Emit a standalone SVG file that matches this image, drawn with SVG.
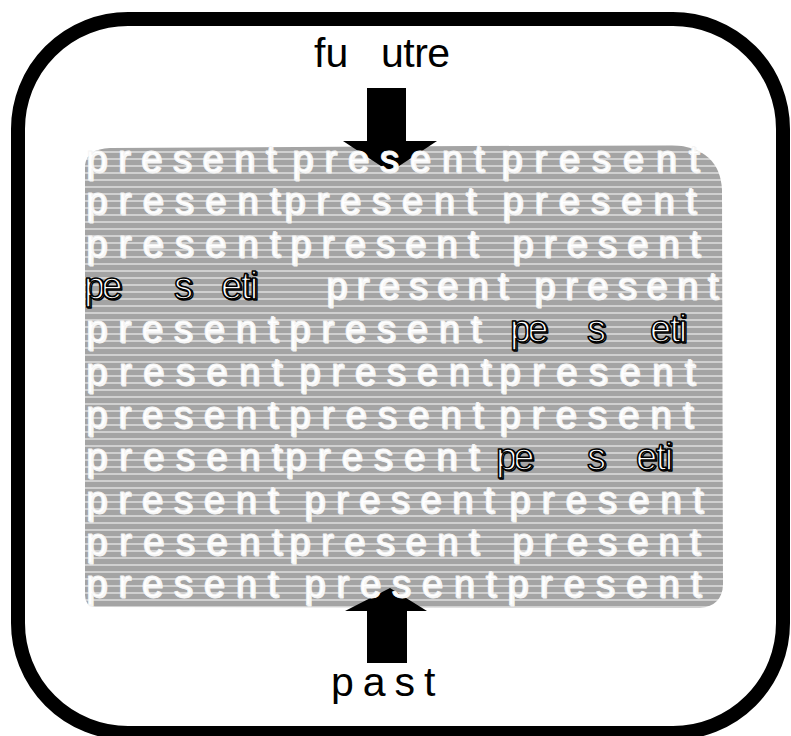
<svg xmlns="http://www.w3.org/2000/svg" xmlns:xlink="http://www.w3.org/1999/xlink" width="791" height="736" viewBox="0 0 791 736">
  <style>
    .lbl { font-family: "Liberation Sans", Arial, sans-serif; font-size: 41px; fill: #000; }
    .pr { font-family: "Liberation Sans", Arial, sans-serif; font-size: 38px; }
    .ol { font-family: "Liberation Sans", Arial, sans-serif; font-size: 38px; fill: #fff; stroke: #000; stroke-width: 1.5; }
    .arrow { fill: #000; }
  </style>
  <defs>
    <pattern id="stripes" width="8" height="7" patternUnits="userSpaceOnUse">
      <rect width="8" height="7" fill="#a4a4a4"/>
      <rect y="4" width="8" height="2" fill="#d0d0d0"/>
    </pattern>
  </defs>
  <rect width="791" height="736" fill="#fff"/>

  <g id="frame">
    <rect x="18" y="19" width="765" height="714" rx="110" ry="110" fill="none" stroke="#000" stroke-width="14"/>
  </g>

  <g id="present-field">
    <path d="M110,148 L672,145 Q720,148 722,190 L723,585 Q722,606 700,608 L95,607 Q85,606 85,595 L85,165 Q87,149 110,148 Z" fill="url(#stripes)"/>
  </g>

  <g id="connectors">
    <polygon class="arrow" points="367,88 406,88 406,141 437,141 390,172 343,141 367,141"/>
    <polygon class="arrow" points="390,588 427,611 407,611 407,663 367,663 367,611 345,611"/>
  </g>

  <use xlink:href="#rows" href="#rows" transform="translate(1.2,1.2)" fill="#3a3a3a" stroke="#3a3a3a" stroke-width="3.4" stroke-linejoin="round"/>
  <g id="rows" fill="#fff" stroke="#f4f4f4" stroke-width="0.8" stroke-linejoin="round">
    <text class="pr" x="86" y="172" textLength="190" lengthAdjust="spacing">present</text>
    <text class="pr" x="292" y="172" textLength="192" lengthAdjust="spacing">present</text>
    <text class="pr" x="501" y="172" textLength="198" lengthAdjust="spacing">present</text>

    <text class="pr" x="86" y="214" textLength="194" lengthAdjust="spacing">present</text>
    <text class="pr" x="284" y="214" textLength="192" lengthAdjust="spacing">present</text>
    <text class="pr" x="502" y="214" textLength="194" lengthAdjust="spacing">present</text>

    <text class="pr" x="86" y="257" textLength="194" lengthAdjust="spacing">present</text>
    <text class="pr" x="290" y="257" textLength="188" lengthAdjust="spacing">present</text>
    <text class="pr" x="512" y="257" textLength="188" lengthAdjust="spacing">present</text>

    <text class="ol" x="84" y="299" letter-spacing="-4">pe</text>
    <text class="ol" x="174" y="299">s</text>
    <text class="ol" x="221" y="299" letter-spacing="-1.5">eti</text>
    <text class="pr" x="326" y="299" textLength="182" lengthAdjust="spacing">present</text>
    <text class="pr" x="534" y="299" textLength="184" lengthAdjust="spacing">present</text>

    <text class="pr" x="86" y="342" textLength="192" lengthAdjust="spacing">present</text>
    <text class="pr" x="289" y="342" textLength="192" lengthAdjust="spacing">present</text>
    <text class="ol" x="510" y="342" letter-spacing="-4">pe</text>
    <text class="ol" x="587" y="342">s</text>
    <text class="ol" x="650" y="342" letter-spacing="-1.5">eti</text>

    <text class="pr" x="86" y="385" textLength="196" lengthAdjust="spacing">present</text>
    <text class="pr" x="299" y="385" textLength="192" lengthAdjust="spacing">present</text>
    <text class="pr" x="499" y="385" textLength="196" lengthAdjust="spacing">present</text>

    <text class="pr" x="86" y="428" textLength="192" lengthAdjust="spacing">present</text>
    <text class="pr" x="289" y="428" textLength="194" lengthAdjust="spacing">present</text>
    <text class="pr" x="499" y="428" textLength="194" lengthAdjust="spacing">present</text>

    <text class="pr" x="86" y="470" textLength="196" lengthAdjust="spacing">present</text>
    <text class="pr" x="285" y="470" textLength="194" lengthAdjust="spacing">present</text>
    <text class="ol" x="496" y="470" letter-spacing="-4">pe</text>
    <text class="ol" x="587" y="470">s</text>
    <text class="ol" x="636" y="470" letter-spacing="-1.5">eti</text>

    <text class="pr" x="86" y="513" textLength="192" lengthAdjust="spacing">present</text>
    <text class="pr" x="304" y="513" textLength="190" lengthAdjust="spacing">present</text>
    <text class="pr" x="509" y="513" textLength="194" lengthAdjust="spacing">present</text>

    <text class="pr" x="86" y="555" textLength="196" lengthAdjust="spacing">present</text>
    <text class="pr" x="289" y="555" textLength="190" lengthAdjust="spacing">present</text>
    <text class="pr" x="512" y="555" textLength="188" lengthAdjust="spacing">present</text>

    <text class="pr" x="86" y="597" textLength="192" lengthAdjust="spacing">present</text>
    <text class="pr" x="304" y="597" textLength="192" lengthAdjust="spacing">present</text>
    <text class="pr" x="507" y="597" textLength="194" lengthAdjust="spacing">present</text>
  </g>

  <g id="future">
    <text class="lbl" x="314" y="67">fu</text>
    <text class="lbl" x="381" y="67" font-size="42" letter-spacing="-0.5">utre</text>
  </g>

  <g id="past">
    <text class="lbl" x="331" y="696" font-size="38" letter-spacing="9">past</text>
  </g>
</svg>
